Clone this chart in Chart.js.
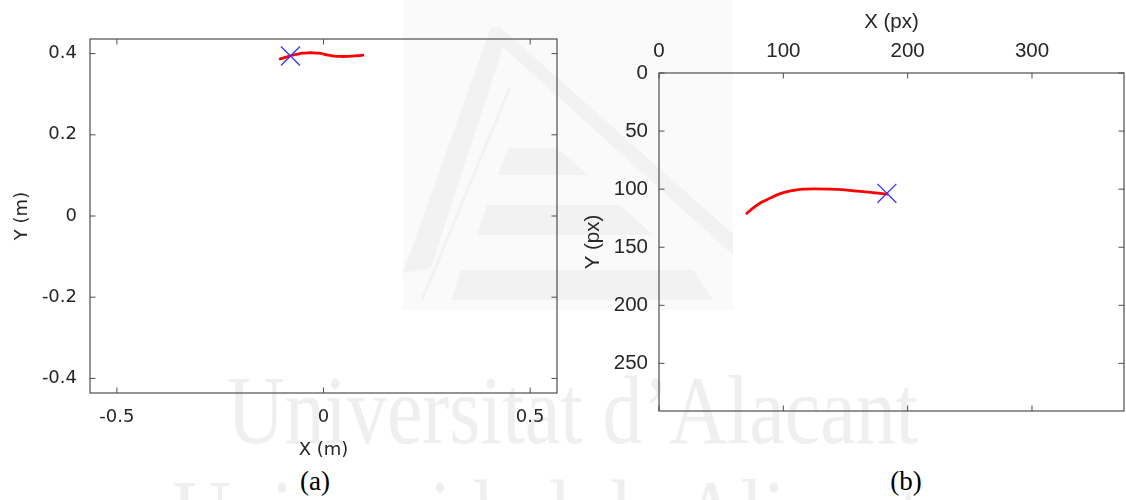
<!DOCTYPE html>
<html>
<head>
<meta charset="utf-8">
<script src="https://cdn.jsdelivr.net/npm/chart.js@4.4.0/dist/chart.umd.min.js"></script>
<style>
html,body{margin:0;padding:0;background:#fff;width:1126px;height:500px;overflow:hidden;}
#bg{position:absolute;left:0;top:0;}
.wrap{position:absolute;top:0;height:500px;}
#wa{left:0;width:560px;}
#wb{left:560px;width:566px;}
</style>
</head>
<body>
<svg id="bg" width="1126" height="500" xmlns="http://www.w3.org/2000/svg">
  <rect x="403" y="0" width="330" height="310" fill="#fafafa"/>
  <g fill="#f2f2f2">
    <polygon points="403,273 491,27 500,27 733,234 733,255 503,47 431,268"/>
    <polygon points="508,148 557,148 588,175 498,175"/>
    <polygon points="487,205 620,205 653,235 477,235"/>
    <polygon points="460,270 693,270 713,300 452,300"/>
  </g>
  <line x1="510" y1="87" x2="422" y2="300" stroke="#f2f2f2" stroke-width="3"/>
  <text x="227" y="443" font-family="Liberation Serif, Times New Roman, serif" font-size="98" fill="#efefef" textLength="691" lengthAdjust="spacingAndGlyphs">Universitat d’Alacant</text>
  <text x="172" y="547" font-family="Liberation Serif, Times New Roman, serif" font-size="98" fill="#efefef" textLength="785" lengthAdjust="spacingAndGlyphs">Universidad de Alicante</text>
  <text x="315" y="490" font-family="Liberation Serif, Times New Roman, serif" font-size="27" fill="#000" text-anchor="middle">(a)</text>
  <text x="906" y="490" font-family="Liberation Serif, Times New Roman, serif" font-size="27" fill="#000" text-anchor="middle">(b)</text>
</svg>
<div class="wrap" id="wa"><canvas id="ca" width="560" height="500" style="width:560px;height:500px"></canvas></div>
<div class="wrap" id="wb"><canvas id="cb" width="566" height="500" style="width:566px;height:500px"></canvas></div>
<script>
// ---- data (a): metric trajectory ----
const metricX = [-0.105, -0.095, -0.085, -0.075, -0.062, -0.050, -0.038, -0.025, -0.012, 0.000, 0.012, 0.025, 0.040, 0.055, 0.070, 0.085, 0.095];
const metricY = [0.387, 0.390, 0.393, 0.396, 0.399, 0.401, 0.402, 0.402, 0.401, 0.399, 0.396, 0.394, 0.393, 0.393, 0.394, 0.395, 0.396];
const metricMarkerX = [-0.080];
const metricMarkerY = [0.394];
const metricXTicks = [-0.5, 0, 0.5];
const metricYTicks = [-0.4, -0.2, 0, 0.2, 0.4];
const metricXRange = [-0.565, 0.565];
const metricYRange = [-0.436, 0.436];

// ---- data (b): pixel trajectory ----
const pixelX = [70.6, 76, 82, 89.4, 96, 103.1, 110, 115.9, 125, 137.7, 147, 156.2, 168, 176, 183.6];
const pixelY = [120.8, 116, 111.5, 107.7, 104.5, 102.2, 100.8, 99.9, 99.7, 99.9, 100.4, 101.4, 102.6, 103.4, 104.2];
const pixelMarkerX = [183.3];
const pixelMarkerY = [103.6];
const pixelXTicks = [0, 100, 200, 300];
const pixelYTicks = [0, 50, 100, 150, 200, 250];
const pixelXRange = [0, 374];
const pixelYRange = [0, 291];

const FONT_A = "'DejaVu Sans', 'Liberation Sans', Arial, sans-serif";
const FONT_B = "'Liberation Sans', Arial, Helvetica, sans-serif";
const TXT = '#262626';
const AXC = '#4d4d4d';

const boxPlugin = {
  id: 'matlabBox',
  afterDraw(chart) {
    const {ctx, chartArea: {left, right, top, bottom}} = chart;
    const xs = chart.scales.x, ys = chart.scales.y;
    const L = 5.5;
    ctx.save();
    ctx.strokeStyle = AXC;
    ctx.lineWidth = 1.2;
    ctx.strokeRect(left, top, right - left, bottom - top);
    ctx.lineWidth = 1;
    ctx.beginPath();
    xs.ticks.forEach(t => {
      const p = xs.getPixelForValue(t.value);
      ctx.moveTo(p, bottom); ctx.lineTo(p, bottom - L);
      ctx.moveTo(p, top); ctx.lineTo(p, top + L);
    });
    ys.ticks.forEach(t => {
      const p = ys.getPixelForValue(t.value);
      ctx.moveTo(left, p); ctx.lineTo(left + L, p);
      ctx.moveTo(right, p); ctx.lineTo(right - L, p);
    });
    ctx.stroke();
    ctx.restore();
  }
};

function pts(xs, ys) { return xs.map((x, i) => ({x: x, y: ys[i]})); }

function lineDs(xs, ys) {
  return {data: pts(xs, ys), showLine: true, borderColor: '#ff0000', borderWidth: 2.8,
          borderCapStyle: 'round', borderJoinStyle: 'round', pointRadius: 0, tension: 0.3, order: 2};
}
function markerDs(xs, ys) {
  return {data: pts(xs, ys), showLine: false, pointStyle: 'crossRot', pointRadius: 13.4,
          pointBorderColor: '#3535ff', pointBorderWidth: 1.3, pointBackgroundColor: 'rgba(0,0,0,0)', order: 1};
}

function axis(opts) {
  return {
    type: 'linear',
    position: opts.position,
    min: opts.range[0], max: opts.range[1],
    reverse: !!opts.reverse,
    afterBuildTicks: s => { s.ticks = opts.ticks.map(v => ({value: v})); },
    afterFit: s => {
      if (opts.width !== undefined) s.width = opts.width;
      if (opts.height !== undefined) s.height = opts.height;
      s.paddingLeft = 0; s.paddingRight = 0; s.paddingTop = 0; s.paddingBottom = 0;
    },
    grid: {display: false, drawTicks: false, tickLength: 0},
    border: {display: false},
    ticks: {padding: opts.pad, color: TXT, font: {family: opts.font, size: opts.size}, maxRotation: 0, autoSkip: false,
            callback: v => String(v)},
    title: {display: true, text: opts.title, color: TXT, font: {family: opts.font, size: opts.size}, padding: opts.tpad}
  };
}

new Chart(document.getElementById('ca'), {
  type: 'scatter',
  data: {datasets: [lineDs(metricX, metricY), markerDs(metricMarkerX, metricMarkerY)]},
  options: {
    responsive: false, animation: false, events: [],
    layout: {autoPadding: false, padding: {top: 39, right: 3, left: 0, bottom: 0}},
    plugins: {legend: {display: false}, tooltip: {enabled: false}},
    scales: {
      x: axis({position: 'bottom', range: metricXRange, ticks: metricXTicks, height: 107, pad: 14, size: 18, font: FONT_A,
               title: 'X (m)', tpad: {top: 0, bottom: 39}}),
      y: axis({position: 'left', range: metricYRange, ticks: metricYTicks, width: 90, pad: 13, size: 18, font: FONT_A,
               title: 'Y (m)', tpad: {top: 12, bottom: 0}})
    }
  },
  plugins: [boxPlugin]
});

new Chart(document.getElementById('cb'), {
  type: 'scatter',
  data: {datasets: [lineDs(pixelX, pixelY), markerDs(pixelMarkerX, pixelMarkerY)]},
  options: {
    responsive: false, animation: false, events: [],
    layout: {autoPadding: false, padding: {top: 0, right: 2, left: 0, bottom: 89}},
    plugins: {legend: {display: false}, tooltip: {enabled: false}},
    scales: {
      x: axis({position: 'top', range: pixelXRange, ticks: pixelXTicks, height: 73, pad: 9, size: 20.5, font: FONT_B,
               title: 'X (px)', tpad: {top: 10, bottom: 0}}),
      y: axis({position: 'left', range: pixelYRange, ticks: pixelYTicks, width: 99, pad: 11, size: 20.5, font: FONT_B, reverse: true,
               title: 'Y (px)', tpad: {top: 21, bottom: 0}})
    }
  },
  plugins: [boxPlugin]
});
</script>
</body>
</html>
